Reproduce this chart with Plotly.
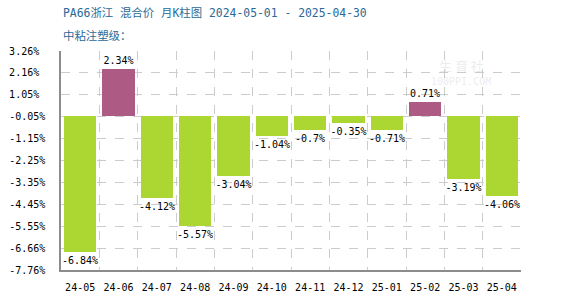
import plotly.graph_objects as go

months = ["24-05", "24-06", "24-07", "24-08", "24-09", "24-10",
          "24-11", "24-12", "25-01", "25-02", "25-03", "25-04"]
changes = [-6.84, 2.34, -4.12, -5.57, -3.04, -1.04, -0.7, -0.35, -0.71, 0.71, -3.19, -4.06]
labels = ["-6.84%", "2.34%", "-4.12%", "-5.57%", "-3.04%", "-1.04%",
          "-0.7%", "-0.35%", "-0.71%", "0.71%", "-3.19%", "-4.06%"]
ytick_vals = [3.26, 2.158, 1.056, -0.046, -1.148, -2.25, -3.352, -4.454, -5.556, -6.658, -7.76]
ytick_text = ["3.26%", "2.16%", "1.05%", "-0.05%", "-1.15%", "-2.25%",
              "-3.35%", "-4.45%", "-5.55%", "-6.66%", "-7.76%"]

GREEN = "#acd632"
PURPLE = "#ad5a85"
MONO = "DejaVu Sans Mono"
TITLE_FONT = "DejaVu Sans Mono, Noto Sans CJK SC"

xs = list(range(len(months)))
colors = [PURPLE if v > 0 else GREEN for v in changes]

fig = go.Figure()
fig.add_trace(go.Bar(
    x=xs, y=changes, width=0.84,
    marker=dict(color=colors, line=dict(width=0)),
    text=labels, textposition="outside", constraintext="none",
    textfont=dict(family=MONO, size=10, color="#000000"),
    cliponaxis=False, hoverinfo="skip",
))

# left-aligned y tick labels: pad with invisible characters (monospace font)
maxlen = max(len(t) for t in ytick_text)
ytext_padded = [
    t + ("<span style='color:rgba(0,0,0,0)'>" + "0" * (maxlen - len(t)) + "</span>"
         if len(t) < maxlen else "")
    for t in ytick_text
]

fig.update_layout(
    width=570, height=300,
    margin=dict(l=61, r=49, t=51, b=30),
    paper_bgcolor="white", plot_bgcolor="white",
    showlegend=False, bargap=0,
    xaxis=dict(
        range=[-0.5, len(months) - 0.5],
        tickmode="array", tickvals=xs, ticktext=months,
        showgrid=False, zeroline=False, automargin=False,
        showline=True, linecolor="#8c8c8c", linewidth=1.5,
        ticks="", ticklabelstandoff=7,
        tickfont=dict(family=MONO, size=10, color="#000000"),
        minor=dict(tick0=-0.5, dtick=1, showgrid=True, gridcolor="#cccccc",
                   griddash="dash", gridwidth=1, ticks=""),
        fixedrange=True,
    ),
    yaxis=dict(
        range=[-7.76, 3.26],
        tickmode="array", tickvals=ytick_vals, ticktext=ytext_padded,
        showgrid=True, gridcolor="#cccccc", griddash="dash", gridwidth=1,
        zeroline=False, automargin=False,
        showline=True, linecolor="#8c8c8c", linewidth=1.5,
        ticks="", ticklabelstandoff=12,
        tickfont=dict(family=MONO, size=10, color="#000000"),
        fixedrange=True,
    ),
    annotations=[
        dict(text="PA66浙江 混合价 月K柱图 2024-05-01 - 2025-04-30",
             xref="paper", yref="paper", x=0, y=1.172, xanchor="left", yanchor="middle",
             showarrow=False, font=dict(family=TITLE_FONT, size=11.4, color="#2a6a98")),
        dict(text="中粘注塑级：",
             xref="paper", yref="paper", x=0, y=1.067, xanchor="left", yanchor="middle",
             showarrow=False, font=dict(family=TITLE_FONT, size=11.4, color="#2a6a98")),
        dict(text="生 育 社",
             xref="paper", yref="paper", x=0.87, y=0.935, xanchor="center", yanchor="middle",
             showarrow=False, font=dict(family="Noto Sans CJK SC", size=13, color="rgba(200,200,200,0.35)")),
        dict(text="100PPI.COM",
             xref="paper", yref="paper", x=0.87, y=0.86, xanchor="center", yanchor="middle",
             showarrow=False, font=dict(family=MONO, size=10, color="rgba(200,200,200,0.35)")),
    ],
)

fig.write_html("out.html")
